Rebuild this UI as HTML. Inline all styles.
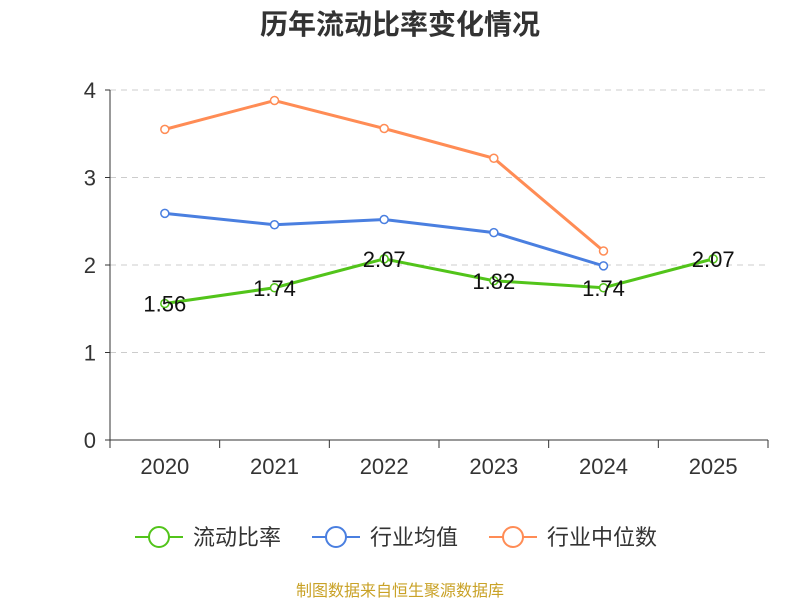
<!DOCTYPE html>
<html><head><meta charset="utf-8"><style>
body{margin:0;background:#fff;}
svg{display:block;font-family:"Liberation Sans","Noto Sans CJK SC",sans-serif;}
</style></head><body>
<svg id="c" width="800" height="600">
<text x="400" y="34" text-anchor="middle" font-size="28" font-weight="bold" fill="#333">历年流动比率变化情况</text>
<g id="grid"></g><g id="axes"></g><g id="series"></g>
<g>
<g><line x1="135" y1="537" x2="183" y2="537" stroke="#52c41a" stroke-width="2"/><circle cx="159" cy="537" r="10" fill="#fff" stroke="#52c41a" stroke-width="2"/><text x="193" y="545" font-size="22" fill="#333">流动比率</text></g>
<g><line x1="312" y1="537" x2="360" y2="537" stroke="#4a7fe0" stroke-width="2"/><circle cx="336" cy="537" r="10" fill="#fff" stroke="#4a7fe0" stroke-width="2"/><text x="370" y="545" font-size="22" fill="#333">行业均值</text></g>
<g><line x1="489" y1="537" x2="537" y2="537" stroke="#ff8c55" stroke-width="2"/><circle cx="513" cy="537" r="10" fill="#fff" stroke="#ff8c55" stroke-width="2"/><text x="547" y="545" font-size="22" fill="#333">行业中位数</text></g>
</g>
<text x="400" y="596" text-anchor="middle" font-size="16" fill="#c9a227">制图数据来自恒生聚源数据库</text>
</svg>
<script>
const categories=["2020","2021","2022","2023","2024","2025"];
const company=[1.56,1.74,2.07,1.82,1.74,2.07];
const industryAvg=[2.59,2.46,2.52,2.37,1.99];
const industryMedian=[3.55,3.88,3.56,3.22,2.16];
const yTicks=[0,1,2,3,4];
const NS="http://www.w3.org/2000/svg";
const x0=110,x1=768,y0=440,yTop=90;
const band=(x1-x0)/categories.length;
const X=i=>x0+band*(i+0.5);
const Y=v=>y0-(v/4)*(y0-yTop);
function mk(t,a,p){const e=document.createElementNS(NS,t);for(const k in a)e.setAttribute(k,a[k]);p.appendChild(e);return e;}
const grid=document.getElementById('grid'),axes=document.getElementById('axes'),ser=document.getElementById('series');
yTicks.forEach(v=>{
 if(v>0){const g=mk('line',{x1:x0,x2:x1,y1:Y(v),y2:Y(v),stroke:'#ccc','stroke-dasharray':'6,5'},grid);
 
 }
 const t=mk('text',{x:x0-14,y:Y(v)+8,'text-anchor':'end','font-size':22,fill:'#333'},axes);t.textContent=v;
 
 
 mk('line',{x1:x0-5,x2:x0,y1:Y(v),y2:Y(v),stroke:'#333'},axes);
});
const ya=mk('line',{x1:x0,x2:x0,y1:yTop,y2:y0,stroke:'#333'},axes);


const xa=mk('line',{x1:x0,x2:x1,y1:y0,y2:y0,stroke:'#333'},axes);


for(let i=0;i<=categories.length;i++)mk('line',{x1:x0+band*i,x2:x0+band*i,y1:y0,y2:y0+8,stroke:'#333'},axes);
categories.forEach((c,i)=>{const t=mk('text',{x:X(i),y:474,'text-anchor':'middle','font-size':22,fill:'#333'},axes);t.textContent=c;
 
 });
function series(vals,color,name,labels){
 const p=mk('polyline',{points:vals.map((v,i)=>X(i)+','+Y(v)).join(' '),fill:'none',stroke:color,'stroke-width':3},ser);
 
 
 vals.forEach((v,i)=>{const c=mk('circle',{cx:X(i),cy:Y(v),r:4,fill:'#fff',stroke:color,'stroke-width':1.5},ser);
  
  
  if(labels){const t=mk('text',{x:X(i),y:Y(v)+8,'text-anchor':'middle','font-size':22,fill:'#111'},ser);t.textContent=v.toFixed(2);
   
   }});
}
series(industryMedian,'#ff8c55','industry-median',false);
series(industryAvg,'#4a7fe0','industry-avg',false);
series(company,'#52c41a','company',true);
</script>
</body></html>
